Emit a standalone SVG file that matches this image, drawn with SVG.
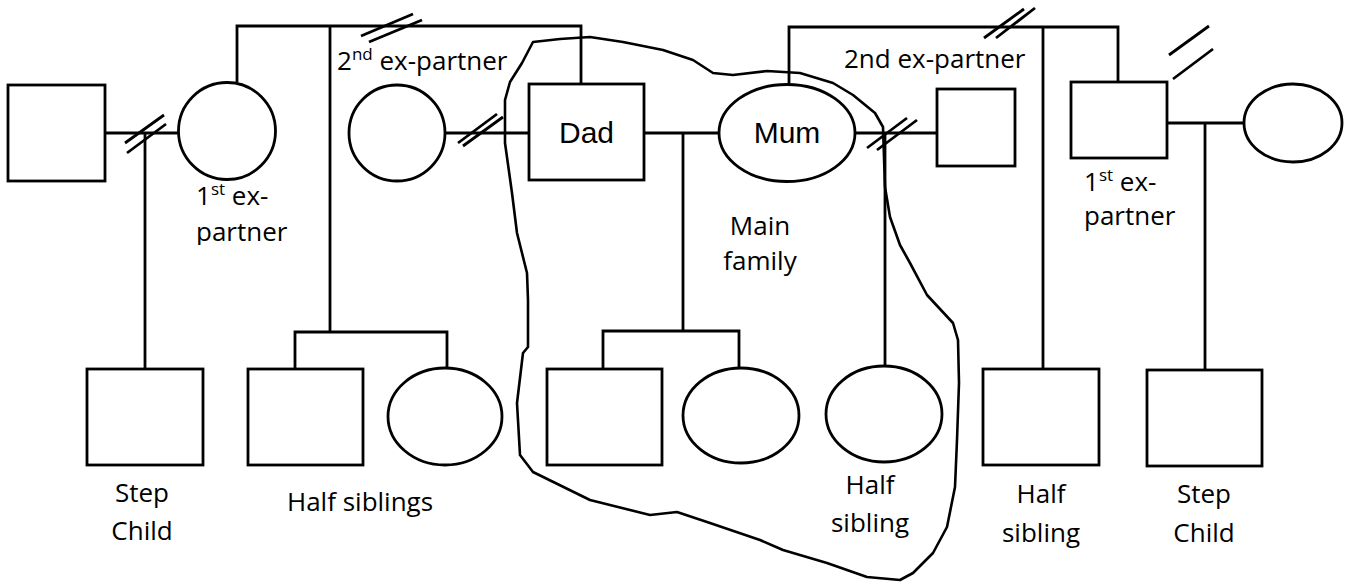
<svg xmlns="http://www.w3.org/2000/svg" width="1351" height="586" viewBox="0 0 1351 586">
<style>
.s{fill:#fff;stroke:#000;stroke-width:2.8}
.c line,.c polyline{stroke:#000;stroke-width:2.8;fill:none}
.o{fill:none;stroke:#000;stroke-width:2.6;stroke-linejoin:round}
.t{font-family:"Open Sans","Liberation Sans",sans-serif;font-size:26px;fill:#000}
.tm{font-family:"Liberation Sans",Arial,sans-serif;font-size:30px;fill:#000}
.sup{font-size:17px}
</style>
<defs>
<clipPath id="clipL"><rect x="180" y="180" width="120" height="65"/></clipPath>
</defs>
<rect width="1351" height="586" fill="#fff"/>
<g id="connectors" class="c">
<line x1="105" y1="133" x2="178" y2="133"/>
<line x1="145" y1="133" x2="145" y2="369"/>
<polyline points="237,82 237,26 581,26 581,84"/>
<line x1="330" y1="26" x2="330" y2="332"/>
<polyline points="295,369 295,332 447,332 447,368"/>
<line x1="445" y1="133" x2="529" y2="133"/>
<line x1="644" y1="133" x2="720" y2="133"/>
<line x1="683" y1="133" x2="683" y2="331"/>
<polyline points="603,369 603,331 739,331 739,367"/>
<polyline points="789,85 789,27 1118,27 1118,82"/>
<line x1="1043" y1="27" x2="1043" y2="369"/>
<line x1="855" y1="133" x2="937" y2="133"/>
<line x1="885" y1="133" x2="885" y2="366"/>
<line x1="1167" y1="123" x2="1244" y2="123"/>
<line x1="1205" y1="123" x2="1205" y2="370"/>
<line x1="125" y1="143" x2="164" y2="115"/>
<line x1="127" y1="153" x2="166" y2="124"/>
<line x1="458" y1="143" x2="497" y2="114"/>
<line x1="463" y1="146" x2="503" y2="117"/>
<line x1="361" y1="36" x2="413" y2="14"/>
<line x1="369" y1="42" x2="422" y2="20"/>
<line x1="984" y1="38" x2="1024" y2="9"/>
<line x1="996" y1="38" x2="1035" y2="8"/>
<line x1="867" y1="148" x2="907" y2="118"/>
<line x1="877" y1="150" x2="917" y2="120"/>
<line x1="1169" y1="55" x2="1209" y2="26"/>
<line x1="1173" y1="79" x2="1213" y2="49"/>
</g>
<g id="outline">
<path class="o" d="M533,42 L560,39 L590,37 L623,42 L663,50 L693,60 L713,73 L733,75 L767,71 L800,73 L833,83 L853,95 L875,113 L883,127 L885,187 L890,217 L900,245 L910,263 L927,295 L953,323 L958,340 L959,383 L957,440 L955,487 L947,527 L933,553 L913,573 L900,580 L867,577 L827,563 L783,550 L760,540 L710,523 L677,512 L650,515 L590,500 L533,472 L520,455 L517,403 L523,353 L528,347 L528,300 L527,273 L517,233 L512,193 L505,143 L505,100 L510,82 L522,63 Z"/>
</g>
<g id="n-leftman"><rect class="s" x="8" y="85" width="97" height="96"/></g>
<g id="n-ex1-left">
<circle class="s" cx="227" cy="131" r="48.5"/>
<g clip-path="url(#clipL)">
<text class="t" x="196" y="205">1<tspan class="sup" dy="-10">st</tspan><tspan dy="10"> ex-</tspan></text>
<text class="t" x="196" y="241">partner</text>
</g>
</g>
<g id="n-ex2-left">
<circle class="s" cx="397" cy="133" r="48"/>
<text class="t" x="337" y="70">2<tspan class="sup" dy="-10">nd</tspan><tspan dy="10"> ex-partner</tspan></text>
</g>
<g id="n-dad">
<rect class="s" x="529" y="84" width="115" height="96"/>
<text class="tm" x="586.5" y="143" text-anchor="middle">Dad</text>
</g>
<g id="n-mum">
<ellipse class="s" cx="787" cy="133" rx="68" ry="48.5"/>
<text class="tm" x="787" y="143" text-anchor="middle">Mum</text>
</g>
<g id="n-ex2-right">
<rect class="s" x="937" y="89" width="78" height="77"/>
<text class="t" x="844" y="68">2nd ex-partner</text>
</g>
<g id="n-ex1-right">
<rect class="s" x="1071" y="82" width="96" height="76"/>
<text class="t" x="1084" y="191">1<tspan class="sup" dy="-10">st</tspan><tspan dy="10"> ex-</tspan></text>
<text class="t" x="1084" y="225">partner</text>
</g>
<g id="n-rightwoman"><ellipse class="s" cx="1293" cy="123" rx="49" ry="39"/></g>
<g id="n-stepchild-left">
<rect class="s" x="87" y="369" width="116" height="96"/>
<text class="t" x="142" y="502" text-anchor="middle">Step</text>
<text class="t" x="142" y="540" text-anchor="middle">Child</text>
</g>
<g id="n-halfsib-left">
<rect class="s" x="248" y="369" width="115" height="96"/>
<ellipse class="s" cx="445" cy="416.5" rx="57" ry="48.5"/>
<text class="t" x="287" y="511">Half siblings</text>
</g>
<g id="n-main-children">
<rect class="s" x="547" y="369" width="115" height="96"/>
<ellipse class="s" cx="741" cy="415.5" rx="58" ry="47.5"/>
<text class="t" x="760" y="235" text-anchor="middle">Main</text>
<text class="t" x="760" y="270" text-anchor="middle">family</text>
</g>
<g id="n-halfsib-mid">
<ellipse class="s" cx="884" cy="414" rx="58" ry="48"/>
<text class="t" x="870" y="494" text-anchor="middle">Half</text>
<text class="t" x="870" y="532" text-anchor="middle">sibling</text>
</g>
<g id="n-halfsib-right">
<rect class="s" x="983" y="369" width="116" height="96"/>
<text class="t" x="1041" y="503" text-anchor="middle">Half</text>
<text class="t" x="1041" y="542" text-anchor="middle">sibling</text>
</g>
<g id="n-stepchild-right">
<rect class="s" x="1147" y="370" width="115" height="96"/>
<text class="t" x="1204" y="503" text-anchor="middle">Step</text>
<text class="t" x="1204" y="542" text-anchor="middle">Child</text>
</g>
</svg>
